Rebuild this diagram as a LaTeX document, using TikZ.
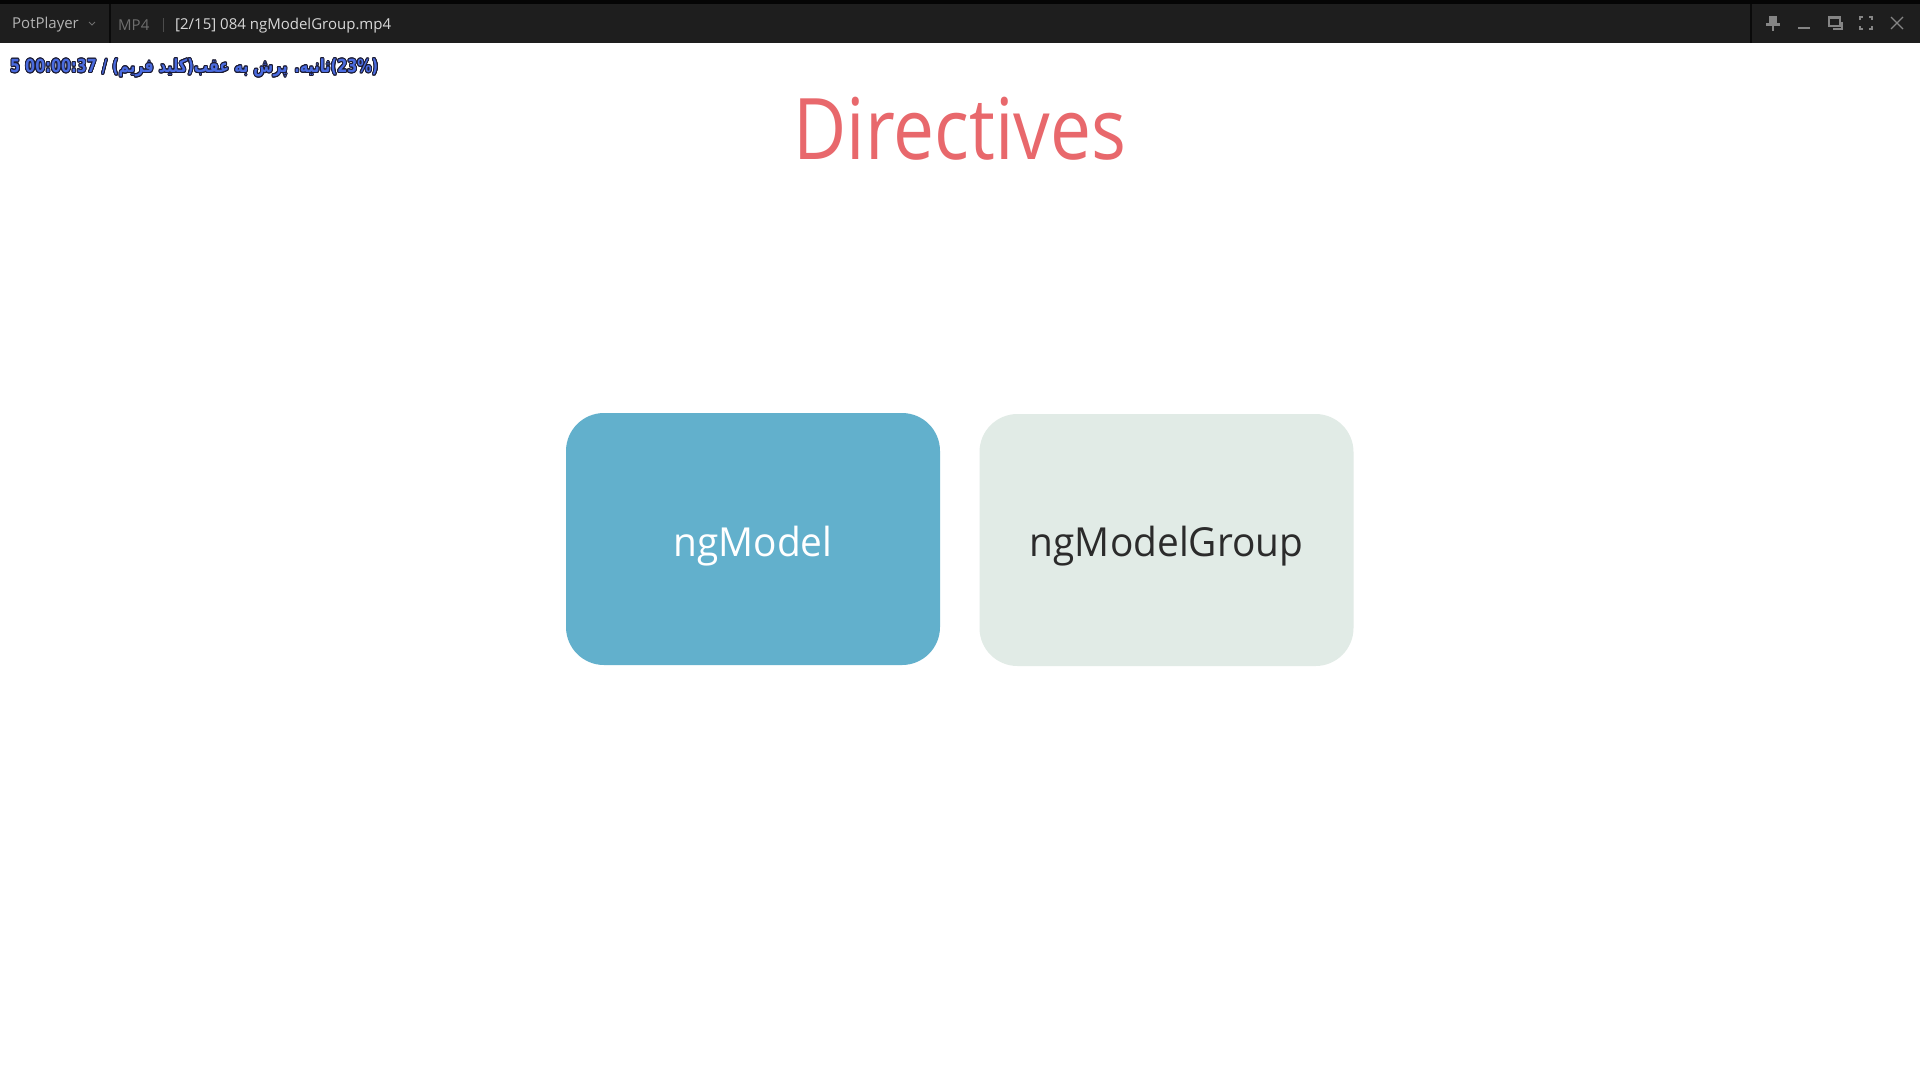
\documentclass[tikz,border=0pt]{standalone}
\usepackage{fontspec}
\usepackage{graphicx}
\usepackage{contour}
\setmainfont{Open Sans}
\newfontfamily\uifont{Open Sans}
\newfontfamily\osdfont{DejaVu Sans}
\newfontfamily\arabicfont[Script=Arabic]{DejaVu Sans}
\TeXXeTstate=1
\contourlength{1.1pt}
\definecolor{barbg}{HTML}{1E1E1E}
\definecolor{bartop}{HTML}{050505}
\definecolor{sepc}{HTML}{0A0A0A}
\definecolor{bartext}{HTML}{B4B4B4}
\definecolor{bardim}{HTML}{6E6E6E}
\definecolor{barfile}{HTML}{D8D8D8}
\definecolor{iconc}{HTML}{858585}
\definecolor{osdblue}{HTML}{4A6BDF}
\definecolor{osdline}{HTML}{1B1B33}
\definecolor{titlered}{HTML}{E8686C}
\definecolor{boxblue}{HTML}{62B0CC}
\definecolor{boxlight}{HTML}{E1EBE6}
\definecolor{darktext}{HTML}{2B2B2B}
\tikzset{
  bartxt/.style={inner sep=0pt, anchor=west, font=\uifont\fontsize{15}{18}\selectfont},
  icon/.style={draw=iconc, line width=1.6pt},
  tile/.style={rounded corners=38pt, minimum width=374pt, minimum height=252pt, inner sep=0pt},
  tiletxt/.style={inner sep=0pt, anchor=base, font=\uifont\fontsize{40}{48}\selectfont}
}
\begin{document}
\begin{tikzpicture}[x=1pt, y=-1pt]
\useasboundingbox (0,0) rectangle (1920,1080);
\fill[white] (0,0) rectangle (1920,1080);
% title bar
\fill[barbg] (0,0) rectangle (1920,43);
\fill[bartop] (0,0) rectangle (1920,4);
\draw[sepc, line width=1.5pt] (110,4) -- (110,43);
\draw[sepc, line width=1.5pt] (1751,4) -- (1751,43);
\node[bartxt, text=bartext] (pp) at (12,24.5) {PotPlayer};
\draw[bardim, line width=0.9pt] (89,22) -- (92,25) -- (95,22);
\node[bartxt, text=bardim] (mp4) at (118,25.5) {MP4};
\draw[draw=black!70!white, line width=0.8pt] (163,18) -- (163,32);
\node[bartxt, text=barfile] (file) at (175,25.5) {[2/15] 084 ngModelGroup.mp4};
% icons
\fill[iconc] (1769,16) rectangle (1777,23);
\fill[iconc] (1766,23) rectangle (1780,25.5);
\draw[iconc, line width=1.5pt] (1773,25) -- (1773,31);
\draw[icon] (1798,28) -- (1810,28);
\draw[iconc, line width=1.2pt] (1829,17) rectangle (1840,26);
\draw[iconc, line width=2.5pt] (1829,18) -- (1840,18);
\draw[iconc, line width=1.2pt] (1842,22) -- (1842,29) -- (1833,29);
\draw[iconc, line width=1.4pt] (1860,20) -- (1860,17) -- (1863,17);
\draw[iconc, line width=1.4pt] (1869,17) -- (1872,17) -- (1872,20);
\draw[iconc, line width=1.4pt] (1872,26) -- (1872,29) -- (1869,29);
\draw[iconc, line width=1.4pt] (1863,29) -- (1860,29) -- (1860,26);
\draw[iconc, line width=1.3pt] (1891,17) -- (1903,29);
\draw[iconc, line width=1.3pt] (1903,17) -- (1891,29);
% OSD line
\node[inner sep=0pt, anchor=base west, text=osdblue] (osd) at (10,72.5)
  {\scalebox{0.8}[1]{\contour{osdline}{\osdfont\bfseries\fontsize{18}{20}\selectfont 5 00:00:37 / }\contour{osdline}{\arabicfont\bfseries\fontsize{18}{20}\selectfont\beginR ثانیه. پرش به عقب(کلید فریم)\endR}\contour{osdline}{\osdfont\bfseries\fontsize{18}{20}\selectfont(23\%)}}};
% title
\node[inner sep=0pt, anchor=base, text=titlered, font=\uifont\fontsize{85}{100}\selectfont] (title) at (960,159) {\scalebox{0.86}[1]{Directives}};
% tiles
\node[tile, fill=boxblue] (ngm) at (753,539) {};
\node[tile, fill=boxlight] (ngmg) at (1166.5,540) {};
\node[tiletxt, text=white] (ngmt) at (753,556) {\scalebox{0.97}[1]{ngModel}};
\node[tiletxt, text=darktext] (ngmgt) at (1166.5,556) {\scalebox{0.97}[1]{ngModelGroup}};
\end{tikzpicture}
\end{document}
